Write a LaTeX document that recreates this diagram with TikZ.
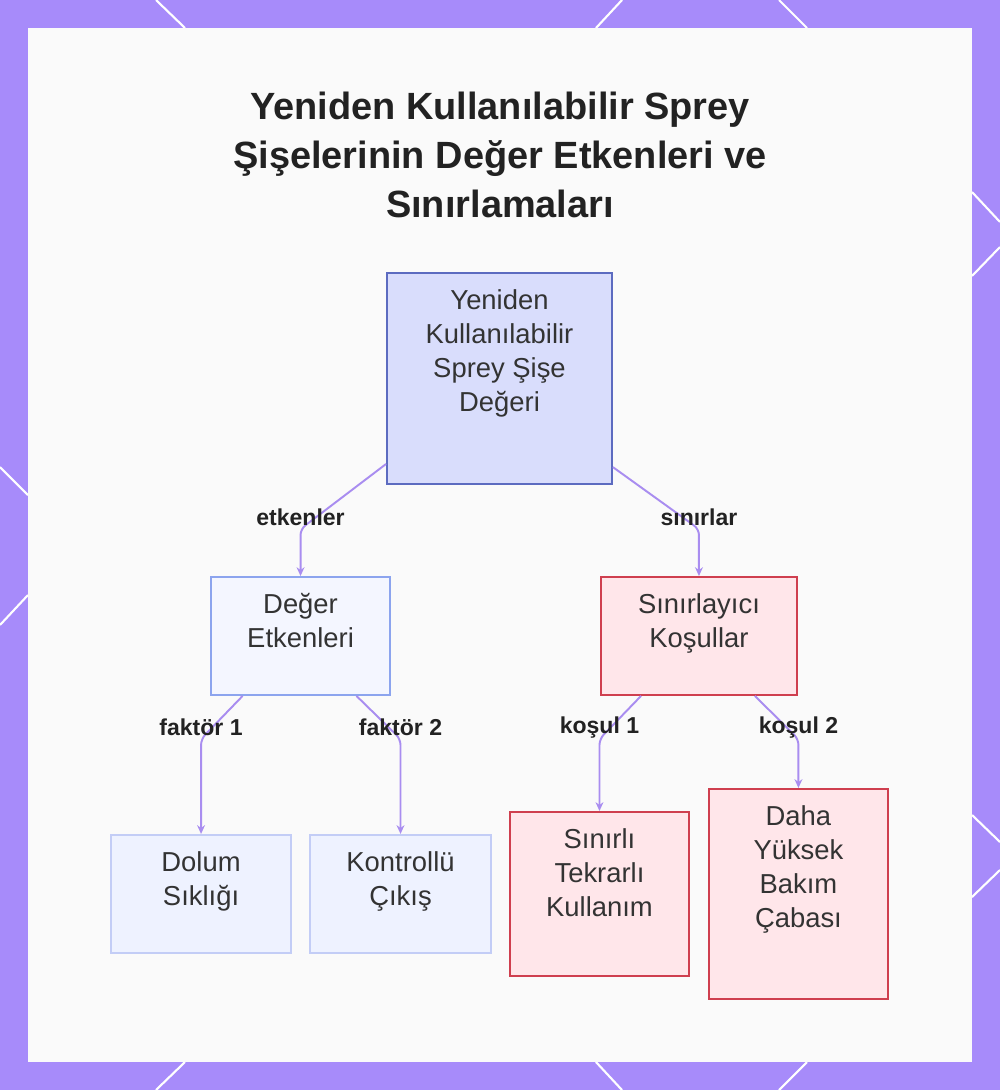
\documentclass[tikz,border=0pt]{standalone}
\usepackage{fontspec}
\setmainfont{Liberation Sans}
\usepackage{tikz}
\usetikzlibrary{arrows.meta}

\definecolor{framepurple}{HTML}{A78BFA}
\definecolor{panelgray}{HTML}{FAFAFA}
\definecolor{rootfill}{HTML}{D9DDFC}
\definecolor{rootdraw}{HTML}{5C6BC0}
\definecolor{midfill}{HTML}{F4F6FF}
\definecolor{middraw}{HTML}{8CA4EE}
\definecolor{leaffill}{HTML}{EEF2FF}
\definecolor{leafdraw}{HTML}{C3CDF6}
\definecolor{limfill}{HTML}{FFE6EA}
\definecolor{limdraw}{HTML}{CF3F4F}
\definecolor{linkcol}{HTML}{A98DF0}
\definecolor{inkdark}{HTML}{222222}
\definecolor{inktext}{HTML}{333333}

\newcommand{\boxtext}[2]{\parbox[t][#1][t]{3.5cm}{\centering #2}}

\tikzset{
	box/.style={draw,line width=1.1pt,inner xsep=0pt,inner ysep=0.33cm,text=inktext,
		font=\fontsize{15.6pt}{19.35pt}\selectfont},
	rootbox/.style={box,fill=rootfill,draw=rootdraw,minimum width=4.5cm},
	valbox/.style={box,fill=midfill,draw=middraw,minimum width=3.58cm},
	valleaf/.style={box,fill=leaffill,draw=leafdraw,minimum width=3.6cm},
	limbox/.style={box,fill=limfill,draw=limdraw,minimum width=3.58cm},
	link/.style={draw=linkcol,line width=1.1pt,rounded corners=0.12cm,->},
	elabel/.style={font=\bfseries\fontsize{13.1pt}{15pt}\selectfont,text=inkdark,yshift=0.23cm},
	titletext/.style={align=center,text=inkdark,font=\bfseries\fontsize{21.6pt}{28.1pt}\selectfont}
}

\begin{document}
\begin{tikzpicture}[x=0.02cm,y=-0.02cm,>={Stealth[length=5pt,width=4.5pt]}]
	\useasboundingbox (0,0) rectangle (1000,1090);
	% frame and panel
	\fill[framepurple] (0,0) rectangle (1000,1090);
	\draw[white,line width=1.2pt]
		(156,0) -- (185,28) (622,0) -- (596,28) (779,0) -- (807,28)
		(185,1062) -- (156,1090) (596,1062) -- (622,1090) (807,1062) -- (779,1090)
		(0,467) -- (28,495) (28,595) -- (0,625)
		(972,192) -- (1000,222) (972,276) -- (1000,247)
		(972,815) -- (1000,842) (972,897) -- (1000,870);
	\fill[panelgray] (28,28) rectangle (972,1062);

	\node(title)[titletext] at (500,155){Yeniden Kullanılabilir Sprey\\Şişelerinin Değer Etkenleri ve\\Sınırlamaları};

	\node(root)[rootbox] at (499.5,378.5){\boxtext{3.56cm}{Yeniden\\Kullanılabilir\\Sprey Şişe\\Değeri}};
	\node(deger)[valbox,node distance=5.15cm,below of=root,xshift=-3.98cm]{\boxtext{1.7cm}{Değer\\Etkenleri}};
	\node(sinir)[limbox,node distance=5.15cm,below of=root,xshift=3.99cm,minimum width=3.92cm]{\boxtext{1.7cm}{Sınırlayıcı\\Koşullar}};
	\node(dolum)[valleaf,node distance=5.16cm,below of=deger,xshift=-1.99cm]{\boxtext{1.7cm}{Dolum\\Sıklığı}};
	\node(cikis)[valleaf,node distance=5.16cm,below of=deger,xshift=2cm,minimum width=3.62cm]{\boxtext{1.7cm}{Kontrollü\\Çıkış}};
	\node(tekrar)[limbox,node distance=5.16cm,below of=sinir,xshift=-1.99cm]{\boxtext{2.62cm}{Sınırlı\\Tekrarlı\\Kullanım}};
	\node(bakim)[limbox,node distance=5.16cm,below of=sinir,xshift=1.99cm]{\boxtext{3.54cm}{Daha\\Yüksek\\Bakım\\Çabası}};

	\draw[link] (root.217.6) -- ([yshift=0.94cm]deger.north) node[elabel]{etkenler} -- (deger.north);
	\draw[link] (root.322.4) -- ([yshift=0.94cm]sinir.north) node[elabel]{sınırlar} -- (sinir.north);
	\draw[link] (deger.226.8) -- ([yshift=1.9cm]dolum.north) node[elabel]{faktör 1} -- (dolum.north);
	\draw[link] (deger.313.8) -- ([yshift=1.9cm]cikis.north) node[elabel]{faktör 2} -- (cikis.north);
	\draw[link] (sinir.226.5) -- ([yshift=1.44cm]tekrar.north) node[elabel]{koşul 1} -- (tekrar.north);
	\draw[link] (sinir.313.5) -- ([yshift=0.98cm]bakim.north) node[elabel]{koşul 2} -- (bakim.north);
\end{tikzpicture}
\end{document}
